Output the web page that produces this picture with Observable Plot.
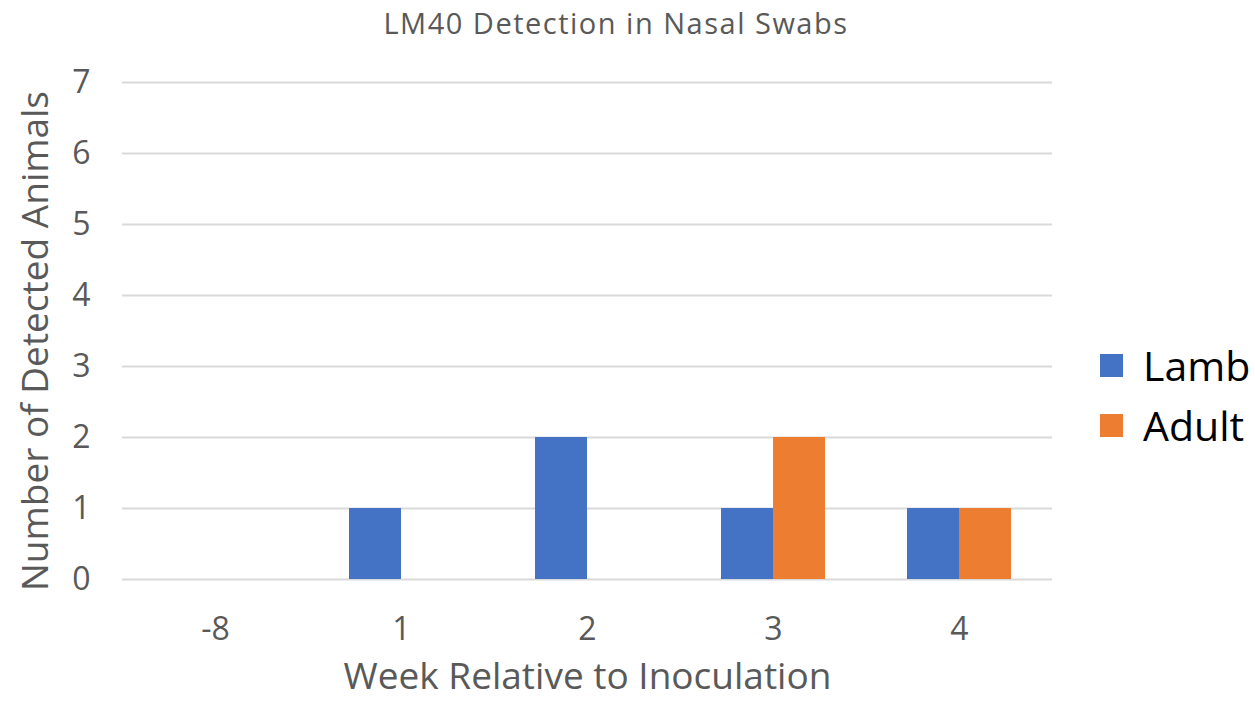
<!DOCTYPE html>
<html>
<head>
<meta charset="utf-8">
<script src="https://cdn.jsdelivr.net/npm/d3@7"></script>
<script src="https://cdn.jsdelivr.net/npm/@observablehq/plot@0.6"></script>
<style>
  html, body { margin: 0; padding: 0; background: #fff; }
  #wrap { position: relative; width: 1255px; height: 703px; overflow: hidden; font-family: "Open Sans", sans-serif; }
  #title { position: absolute; left: 0; top: 0; width: 1232px; text-align: center; font-size: 29px; letter-spacing: 1.5px; line-height: 45px; color: #595959; }
  #chart { position: absolute; left: 0; top: 45px; }
  #legend { position: absolute; left: 1100px; top: 335px; font-size: 41px; color: #000; }
  .item { display: flex; align-items: center; height: 60px; }
  .sw { width: 23px; height: 23px; margin-right: 20px; }
</style>
</head>
<body>
<div id="wrap">
  <div id="title">LM40 Detection in Nasal Swabs</div>
  <div id="chart"></div>
  <div id="legend"></div>
</div>
<script>
const weeks = ["-8", "1", "2", "3", "4"];
const lamb = [0, 1, 2, 1, 1];
const adult = [0, 0, 0, 2, 1];
const series = ["Lamb", "Adult"];
const colors = ["#4472C4", "#ED7D31"];
const yTicks = [0, 1, 2, 3, 4, 5, 6, 7];
const xTitle = "Week Relative to Inoculation";
const yTitle = "Number of Detected Animals";

const data = weeks.flatMap((w, i) => [
  {week: w, series: "Lamb", value: lamb[i]},
  {week: w, series: "Adult", value: adult[i]}
]);

const chart = Plot.plot({
  width: 1255,
  height: 658,
  marginTop: 37,
  marginBottom: 124,
  marginLeft: 120,
  marginRight: 202,
  style: {fontFamily: "Open Sans, sans-serif", color: "#595959", fontSize: "32px", background: "transparent", overflow: "visible"},
  fx: {domain: weeks, padding: 0, label: null},
  x: {domain: series, paddingInner: 0, paddingOuter: 0.76, axis: null},
  y: {domain: [0, 7]},
  color: {domain: series, range: colors},
  marks: [
    Plot.ruleY(yTicks, {stroke: "#d9d9d9", strokeWidth: 2}),
    Plot.barY(data, {fx: "week", x: "series", y: "value", fill: "series", inset: 0}),
    Plot.axisY({ticks: yTicks, tickSize: 0, tickPadding: 32, tickFormat: d => String(d), label: null, fill: "#595959"}),
    Plot.axisFx({anchor: "bottom", tickSize: 0, tickPadding: 38, label: null, fill: "#595959"}),
    Plot.text([{fx: weeks[0], t: yTitle}], {fx: "fx", text: "t", frameAnchor: "left", dx: -86, dy: 10, rotate: -90,
      fontSize: 37, fill: "#595959", textAnchor: "middle", lineAnchor: "middle"}),
    Plot.text([{fx: weeks[2], t: xTitle}], {fx: "fx", text: "t", frameAnchor: "bottom", dy: 98,
      fontSize: 37, fill: "#595959", textAnchor: "middle", lineAnchor: "middle"})
  ]
});
document.getElementById("chart").appendChild(chart);

const legend = document.getElementById("legend");
series.forEach((s, i) => {
  const item = document.createElement("div");
  item.className = "item";
  const sw = document.createElement("div");
  sw.className = "sw";
  sw.style.background = colors[i];
  const t = document.createElement("span");
  t.textContent = s;
  item.appendChild(sw);
  item.appendChild(t);
  legend.appendChild(item);
});
</script>
</body>
</html>
